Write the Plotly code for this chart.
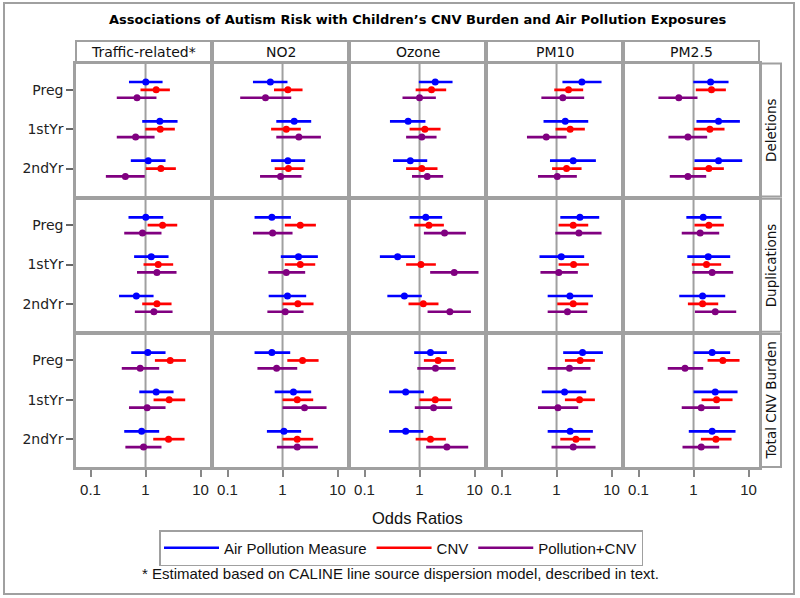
import plotly.graph_objects as go

# ---------------- data ----------------
MEASURES = ["Traffic-related*", "NO2", "Ozone", "PM10", "PM2.5"]
PERIODS = ["Preg", "1stYr", "2ndYr"]
OUTCOMES = ["Deletions", "Duplications", "Total CNV Burden"]
SERIES = ["Air Pollution Measure", "CNV", "Pollution+CNV"]
X_TICKS = [0.1, 1, 10]
X_TICK_TEXT = ["0.1", "1", "10"]

# each: [measure][period] -> (odds ratio, lower CI, upper CI)
DELETIONS_AIR = [
    [(1.01, 0.50, 2.04), (1.82, 0.87, 3.82), (1.12, 0.54, 2.31)],
    [(0.60, 0.29, 1.23), (1.63, 0.77, 3.32), (1.25, 0.62, 2.58)],
    [(1.93, 0.97, 3.98), (0.62, 0.29, 1.28), (0.68, 0.33, 1.38)],
    [(2.89, 1.28, 6.58), (1.44, 0.58, 3.77), (2.01, 0.76, 5.19)],
    [(2.04, 0.99, 4.33), (2.85, 1.13, 6.96), (2.85, 1.04, 7.67)],
]
DELETIONS_CNV = [
    [(1.56, 0.81, 2.77), (1.85, 0.99, 3.41), (1.90, 1.01, 3.56)],
    [(1.25, 0.70, 2.31), (1.17, 0.62, 2.15), (1.28, 0.72, 2.41)],
    [(1.65, 0.85, 3.05), (1.25, 0.66, 2.41), (1.10, 0.57, 2.12)],
    [(1.65, 0.91, 3.05), (1.77, 0.96, 3.27), (1.52, 0.83, 2.85)],
    [(2.12, 1.10, 3.87), (1.98, 1.01, 3.66), (1.90, 0.99, 3.56)],
]
DELETIONS_BOTH = [
    [(0.70, 0.30, 1.58), (0.66, 0.30, 1.46), (0.43, 0.19, 0.97)],
    [(0.49, 0.17, 1.44), (1.98, 0.77, 4.98), (0.92, 0.39, 2.21)],
    [(1.00, 0.49, 1.98), (1.10, 0.57, 2.04), (1.38, 0.73, 2.69)],
    [(1.30, 0.53, 3.18), (0.65, 0.29, 1.52), (1.03, 0.46, 2.34)],
    [(0.54, 0.23, 1.18), (0.79, 0.35, 1.77), (0.79, 0.37, 1.70)],
]
DUPLICATIONS_AIR = [
    [(1.01, 0.49, 2.10), (1.27, 0.62, 2.62), (0.68, 0.33, 1.40)],
    [(0.64, 0.31, 1.42), (1.95, 0.93, 4.39), (1.23, 0.56, 2.69)],
    [(1.30, 0.66, 2.58), (0.40, 0.19, 0.83), (0.53, 0.26, 1.10)],
    [(2.66, 1.17, 5.97), (1.22, 0.49, 3.18), (1.75, 0.69, 4.58)],
    [(1.50, 0.74, 3.23), (1.85, 0.77, 4.64), (1.46, 0.55, 3.77)],
]
DUPLICATIONS_CNV = [
    [(2.04, 1.09, 3.77), (1.70, 0.92, 3.18), (1.61, 0.87, 2.97)],
    [(2.10, 1.10, 4.04), (2.10, 1.10, 3.93), (1.90, 1.00, 3.66)],
    [(1.48, 0.80, 2.77), (1.06, 0.57, 1.98), (1.17, 0.63, 2.21)],
    [(2.01, 1.09, 3.77), (2.04, 1.09, 3.87), (2.01, 1.03, 3.77)],
    [(1.90, 1.04, 3.56), (1.72, 0.93, 3.18), (1.46, 0.79, 2.81)],
]
DUPLICATIONS_BOTH = [
    [(0.88, 0.41, 1.95), (1.61, 0.70, 3.66), (1.42, 0.64, 3.10)],
    [(0.66, 0.29, 1.52), (1.17, 0.55, 2.58), (1.12, 0.53, 2.41)],
    [(2.85, 1.20, 6.96), (4.27, 1.56, 11.8), (3.56, 1.40, 8.58)],
    [(2.55, 0.95, 6.58), (1.10, 0.51, 2.44), (1.58, 0.69, 3.61)],
    [(1.32, 0.61, 2.93), (2.18, 0.95, 5.26), (2.48, 1.06, 5.97)],
]
TOTAL_AIR = [
    [(1.10, 0.55, 2.31), (1.56, 0.77, 3.23), (0.85, 0.41, 1.77)],
    [(0.64, 0.31, 1.38), (1.58, 0.72, 3.32), (1.06, 0.52, 2.18)],
    [(1.58, 0.80, 3.14), (0.56, 0.28, 1.20), (0.56, 0.28, 1.17)],
    [(2.97, 1.32, 6.96), (1.40, 0.54, 3.46), (1.77, 0.69, 4.58)],
    [(2.18, 1.00, 4.64), (2.48, 1.00, 6.31), (2.18, 0.82, 5.80)],
]
TOTAL_CNV = [
    [(2.81, 1.48, 5.41), (2.69, 1.40, 5.26), (2.62, 1.38, 5.12)],
    [(2.31, 1.22, 4.52), (1.85, 1.00, 3.61), (1.85, 1.00, 3.61)],
    [(2.18, 1.20, 4.21), (1.93, 1.00, 3.71), (1.58, 0.85, 3.01)],
    [(2.69, 1.42, 4.98), (2.62, 1.42, 4.98), (2.25, 1.17, 4.09)],
    [(3.41, 1.80, 6.86), (2.62, 1.40, 5.12), (2.55, 1.36, 4.91)],
]
TOTAL_BOTH = [
    [(0.80, 0.37, 1.77), (1.07, 0.50, 2.31), (0.92, 0.43, 1.95)],
    [(0.78, 0.35, 1.85), (2.51, 1.00, 6.31), (1.85, 0.79, 4.39)],
    [(1.95, 0.91, 4.52), (1.80, 0.82, 3.93), (3.14, 1.32, 7.67)],
    [(1.72, 0.69, 4.15), (1.06, 0.46, 2.48), (2.01, 0.81, 5.12)],
    [(0.70, 0.34, 1.50), (1.38, 0.61, 3.01), (1.38, 0.63, 2.93)],
]

DATA = [
    [DELETIONS_AIR, DELETIONS_CNV, DELETIONS_BOTH],
    [DUPLICATIONS_AIR, DUPLICATIONS_CNV, DUPLICATIONS_BOTH],
    [TOTAL_AIR, TOTAL_CNV, TOTAL_BOTH],
]

# ---------------- style ----------------
COLORS = ["#0000FF", "#FF0000", "#800080"]
OFFSETS = [-0.2, 0.0, 0.2]
GRAY = "#A0A0A0"
W, H = 800, 598
SANS = "Liberation Sans, Arial, sans-serif"
DEJAVU = "DejaVu Sans, sans-serif"

COL_LEFT0, COL_PITCH, COL_W = 76, 137, 135
ROW_TOP0, ROW_PITCH, ROW_H = 63.5, 135.3, 133
XRANGE = [-1.264, 1.19]
YRANGE = [2.71, -0.67]


def fx(px):
    return px / W


def fy(py):
    return 1 - py / H


fig = go.Figure()
layout = {}
shapes = []
annotations = []

for r in range(3):
    for c in range(5):
        k = r * 5 + c + 1
        xa = "xaxis" if k == 1 else f"xaxis{k}"
        ya = "yaxis" if k == 1 else f"yaxis{k}"
        xref = "x" if k == 1 else f"x{k}"
        yref = "y" if k == 1 else f"y{k}"
        left = COL_LEFT0 + c * COL_PITCH
        top = ROW_TOP0 + r * ROW_PITCH
        bottom_row = r == 2
        first_col = c == 0
        layout[xa] = dict(
            domain=[fx(left), fx(left + COL_W)],
            anchor=yref, type="log", range=XRANGE,
            tickvals=X_TICKS, ticktext=X_TICK_TEXT,
            showticklabels=bottom_row,
            ticks="outside" if bottom_row else "", ticklen=7, tickwidth=1.5,
            tickcolor="#888888",
            tickfont=dict(family=SANS, size=15, color="#222222"),
            showgrid=False, zeroline=False,
            showline=True, mirror=True, linecolor=GRAY, linewidth=2.5,
        )
        layout[ya] = dict(
            domain=[fy(top + ROW_H), fy(top)],
            anchor=xref, range=YRANGE,
            tickvals=[0, 1, 2], ticktext=PERIODS,
            showticklabels=first_col,
            ticks="outside" if first_col else "", ticklen=7, tickwidth=1.5,
            tickcolor="#666666",
            tickfont=dict(family=DEJAVU, size=14, color="#222222"),
            showgrid=False, zeroline=False,
            showline=True, mirror=True, linecolor=GRAY, linewidth=2.5,
        )
        # reference line at OR = 1
        shapes.append(dict(type="line", xref=xref, yref=f"{yref} domain",
                           x0=1, x1=1, y0=0, y1=1, layer="below",
                           line=dict(color=GRAY, width=2)))
        for s in range(3):
            vals = DATA[r][s][c]
            lx, ly, mx, my = [], [], [], []
            for p, (est, lo, hi) in enumerate(vals):
                yy = p + OFFSETS[s]
                lx += [lo, hi, None]
                ly += [yy, yy, None]
                mx.append(est)
                my.append(yy)
            fig.add_trace(go.Scatter(
                x=lx, y=ly, mode="lines", xaxis=xref, yaxis=yref,
                line=dict(color=COLORS[s], width=2.7),
                name=SERIES[s], showlegend=(k == 1), legendgroup=SERIES[s],
                hoverinfo="skip"))
            fig.add_trace(go.Scatter(
                x=mx, y=my, mode="markers", xaxis=xref, yaxis=yref,
                marker=dict(color=COLORS[s], size=7),
                name=SERIES[s], showlegend=False, legendgroup=SERIES[s]))

# column headers
for c, m in enumerate(MEASURES):
    left = COL_LEFT0 + c * COL_PITCH
    shapes.append(dict(type="rect", xref="paper", yref="paper",
                       x0=fx(left), x1=fx(left + COL_W), y0=fy(62), y1=fy(41),
                       line=dict(color=GRAY, width=2), fillcolor="white"))
    annotations.append(dict(text=m, xref="paper", yref="paper",
                            x=fx(left + COL_W / 2), y=fy(51.5), showarrow=False,
                            xanchor="center", yanchor="middle",
                            font=dict(family=DEJAVU, size=14, color="#111111")))

# row strips
for r, o in enumerate(OUTCOMES):
    top = ROW_TOP0 + r * ROW_PITCH
    shapes.append(dict(type="rect", xref="paper", yref="paper",
                       x0=fx(761), x1=fx(781), y0=fy(top + ROW_H), y1=fy(top),
                       line=dict(color=GRAY, width=2), fillcolor="white"))
    annotations.append(dict(text=o, xref="paper", yref="paper",
                            x=fx(771), y=fy(top + ROW_H / 2), showarrow=False,
                            textangle=-90, xanchor="center", yanchor="middle",
                            font=dict(family=DEJAVU, size=13.5, color="#111111")))

# outer frame
shapes.append(dict(type="rect", xref="paper", yref="paper",
                   x0=fx(4), x1=fx(794), y0=fy(594), y1=fy(3),
                   line=dict(color=GRAY, width=2), layer="below"))

annotations.append(dict(
    text="<b>Associations of Autism Risk with Children\u2019s CNV Burden and Air Pollution Exposures</b>",
    xref="paper", yref="paper", x=fx(417), y=fy(20), showarrow=False,
    xanchor="center", yanchor="middle",
    font=dict(family=DEJAVU, size=13, color="#000000")))
annotations.append(dict(
    text="Odds Ratios", xref="paper", yref="paper", x=fx(417), y=fy(518),
    showarrow=False, xanchor="center", yanchor="middle",
    font=dict(family=SANS, size=16.5, color="#111111")))
annotations.append(dict(
    text="* Estimated based on CALINE line source dispersion model, described in text.",
    xref="paper", yref="paper", x=fx(400), y=fy(573), showarrow=False,
    xanchor="center", yanchor="middle",
    font=dict(family=SANS, size=15, color="#111111")))

fig.update_layout(
    width=W, height=H,
    margin=dict(l=0, r=0, t=0, b=0),
    paper_bgcolor="white", plot_bgcolor="white",
    shapes=shapes, annotations=annotations,
    showlegend=True,
    legend=dict(orientation="h", x=fx(401), y=fy(530), xanchor="center",
                yanchor="top", bordercolor=GRAY, borderwidth=1.5,
                font=dict(family=SANS, size=15, color="#111111"),
                itemwidth=55, tracegroupgap=0),
    **layout,
)

fig.write_html("out.html", config={"displayModeBar": False},
               post_script="document.body.style.margin='0';")
